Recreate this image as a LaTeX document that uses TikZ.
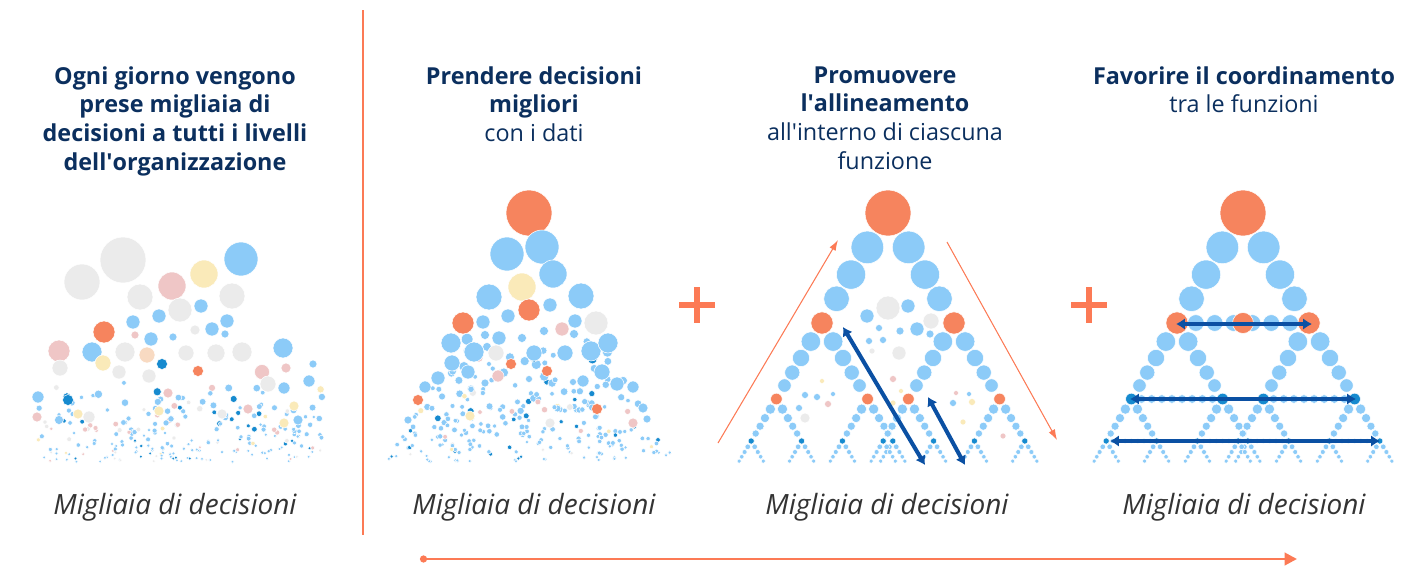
\documentclass[tikz,border=0pt]{standalone}
\usepackage{fontspec}
\setmainfont{Open Sans}
\usetikzlibrary{arrows.meta}

\definecolor{navy}{HTML}{0B2F5E}
\definecolor{capgray}{HTML}{333333}
\definecolor{bOrange}{HTML}{F6845E}
\definecolor{lineOrange}{HTML}{FC7A55}
\definecolor{bBlue}{HTML}{8CCBF8}
\definecolor{bDark}{HTML}{168ACF}
\definecolor{bGray}{HTML}{EBEBEB}
\definecolor{bPink}{HTML}{EFC6C6}
\definecolor{bYellow}{HTML}{FAEAB9}
\definecolor{bPeach}{HTML}{F8DAC2}
\definecolor{arrowBlue}{HTML}{0B50A3}

\newcommand\headfont{\fontsize{13.3}{16.4}\selectfont}
\newcommand\capfont{\fontsize{15.9}{18}\selectfont\itshape}
\newcommand\ap{\textquotesingle{}}

% bubble size falls off with depth below the apex
\def\apy{213}
\pgfmathdeclarefunction{bub}{1}{%
  \begingroup
  \pgfmathparse{(#1-\apy<1) ? 23 : 1.8+17.5*(max(0.02,(252-(#1-\apy))/252))^1.1}%
  \pgfmathsmuggle\pgfmathresult
  \endgroup}

\newif\ifrowline
\def\rowdy#1{\ifcase#1 110\or 186\or 228\or 252\fi}
\def\apexcol#1{\ifcase#1 bOrange\or bOrange\or bOrange\else bDark\fi}

% chain of bubbles from (#1,#2) to (#3,#4)
\newcommand\bubbleside[4]{%
  \begingroup
  \pgfmathsetmacro\bdx{#3-(#1)}%
  \pgfmathsetmacro\bdy{#4-(#2)}%
  \pgfmathsetmacro\blen{veclen(\bdx,\bdy)}%
  \pgfmathsetmacro\bux{\bdx/\blen}%
  \pgfmathsetmacro\buy{\bdy/\blen}%
  \def\bt{0}%
  \pgfmathsetmacro\bcur{bub(#2)}%
  \loop
    \pgfmathsetmacro\bnext{bub(#2+\buy*(\bt+2*\bcur))}%
    \pgfmathsetmacro\bt{\bt+\bcur+\bnext+0.8}%
    \pgfmathtruncatemacro\bgo{\bt+0.5*\bnext<\blen}%
  \ifnum\bgo=1
    \filldraw[bubble] ({#1+\bux*\bt},{#2+\buy*\bt}) circle (\bnext);
    \let\bcur\bnext
  \repeat
  \endgroup}

% row of even bubbles between x=#1 and x=#2 at height #3
\newcommand\bubblerow[3]{%
  \begingroup
  \pgfmathsetmacro\brr{0.75*bub(#3)}%
  \pgfmathtruncatemacro\bn{(#2-(#1))/(2*\brr+1)}%
  \pgfmathtruncatemacro\bm{\bn-1}%
  \ifnum\bm>0
    \foreach \j in {1,...,\bm}{
      \filldraw[bubble] ({#1+(#2-(#1))*\j/\bn},#3) circle (\brr);
    }
  \fi
  \endgroup}

% one triangle: apex x, apex y, level
\newcommand\tri[3]{%
  \pgfmathsetmacro\tx{#1}%
  \pgfmathsetmacro\ty{#2}%
  \pgfmathsetmacro\tyy{\apy+\rowdy{#3}}%
  \pgfmathsetmacro\thw{0.6*(\tyy-\ty)}%
  \pgfmathsetmacro\tlx{\tx-\thw}%
  \pgfmathsetmacro\trx{\tx+\thw}%
  \bubbleside{\tx}{\ty}{\tlx}{\tyy}%
  \bubbleside{\tx}{\ty}{\trx}{\tyy}%
  \ifnum#3<3 \ifrowline\bubblerow{\tlx}{\trx}{\tyy}\fi\fi
  \pgfmathsetmacro\tar{bub(\ty)}%
  \edef\tcol{\apexcol{#3}}%
  \filldraw[bubble, fill=\tcol] (\tx,\ty) circle (\tar);
}

% nested triangles under apex (#1,213)
\newcommand\nested[1]{%
  \tri{#1}{213}{0}
  \foreach \sa in {-1,1}{
    \tri{#1+\sa*66}{323}{1}
    \foreach \sb in {-1,1}{
      \tri{#1+\sa*66+\sb*45.6}{399}{2}
      \foreach \sc in {-1,1}{
        \tri{#1+\sa*66+\sb*45.6+\sc*25.2}{441}{3}
      }
    }
  }}

\tikzset{
  head/.style={anchor=north, align=center, inner sep=0pt, text=navy, font=\headfont},
  caption/.style={anchor=base, inner sep=0pt, text=capgray, font=\capfont},
  bubble/.style={draw=white, line width=0.3pt, fill=bBlue},
  bluearrow/.style={draw=arrowBlue, line width=2.3pt,
    {Latex[length=5pt,width=6.5pt]}-{Latex[length=5pt,width=6.5pt]}},
  thinarrow/.style={draw=lineOrange, line width=0.6pt, -{Latex[length=6pt,width=4pt]}},
  plussign/.style={draw=lineOrange, line width=3.2pt},
}

\begin{document}
\begin{tikzpicture}[x=0.02cm, y=-0.02cm]
  \useasboundingbox (0,0) rectangle (1417,565);

  % headings
  \node[head] (h1) at (175,66) {\textbf{Ogni giorno vengono}\\\textbf{prese migliaia di}\\
    \textbf{decisioni a tutti i livelli}\\\textbf{dell\ap organizzazione}};
  \node[head] (h2) at (534,66) {\textbf{Prendere decisioni}\\\textbf{migliori}\\con i dati};
  \node[head] (h3) at (885,66) {\textbf{Promuovere}\\\textbf{l\ap allineamento}\\
    all\ap interno di ciascuna\\funzione};
  \node[head] (h4) at (1244,66) {\textbf{Favorire il coordinamento}\\tra le funzioni};

  % captions
  \node[caption] (c1) at (175,514) {Migliaia di decisioni};
  \node[caption] (c2) at (534,514) {Migliaia di decisioni};
  \node[caption] (c3) at (887,514) {Migliaia di decisioni};
  \node[caption] (c4) at (1244,514) {Migliaia di decisioni};

  \coordinate (divtop) at (363,10);
  \coordinate (divbot) at (363,535);
  \draw[lineOrange, line width=0.8pt] (divtop) -- (divbot);

  % panel 1: scattered cloud
  \pgfmathsetseed{5}
  \foreach \i in {1,...,240}{
    \pgfmathsetmacro\qy{378+84*sqrt(rnd)}
    \pgfmathsetmacro\qx{34+288*rnd}
    \pgfmathsetmacro\qr{1.6+(462-\qy)/84*(0.6+2.6*rnd)}
    \pgfmathtruncatemacro\qc{22*rnd}
    \edef\qcol{\ifcase\qc bDark\or bDark\or bPink\or bPink\or bGray\or bGray\or bYellow\else bBlue\fi}
    \filldraw[bubble, fill=\qcol] (\qx,\qy) circle (\qr);
  }
  \foreach \px/\py/\pr/\pc in {82/282/18/bGray, 123/260/23/bGray, 241/259/17/bBlue,
      204/274/14/bYellow, 172/286/14/bPink, 140/297/13/bGray, 232/296/13/bGray,
      201/306/7/bBlue, 180/310/12/bGray, 159/316/7/bBlue, 133/322/7/bBlue,
      227/321/7/bBlue, 212/329/7/bBlue, 195/330/5/bGray, 104/332/11/bOrange,
      135/335/4/bPink, 225/334/4/bBlue, 151/339/7/bBlue, 173/337/4/bBlue,
      59/351/11/bPink, 92/352/10/bBlue, 125/352/10/bGray, 147/355/8/bPeach,
      186/353/8/bGray, 216/353/9/bGray, 242/352/10/bGray, 283/348/10/bBlue,
      103/363/8/bYellow, 60/368/8/bGray, 119/372/7/bGray, 162/364/5.5/bDark,
      149/376/7/bGray, 198/371/5.5/bOrange, 262/372/7.5/bPink, 286/368/5/bPink,
      313/364/4/bBlue, 309/381/6/bBlue, 268/384/8/bGray, 284/388/6/bBlue,
      38/397/6/bBlue, 68/400/5.5/bDark, 37/417/5/bPink, 294/406/5/bYellow,
      284/423/5/bYellow, 78/414/5/bYellow, 89/417/6/bGray, 59/420/4.5/bBlue,
      298/420/5/bBlue, 159/411/5/bYellow, 222/414/5/bGray, 248/409/5/bPink,
      168/393/5/bPink}
    \filldraw[bubble, fill=\pc] (\px,\py) circle (\pr);

  % panel 2: loose pyramid
  \pgfmathsetseed{11}
  \foreach \i in {1,...,260}{
    \pgfmathsetmacro\qy{338+124*sqrt(rnd)}
    \pgfmathsetmacro\qx{531+(2*rnd-1)*0.58*(\qy-213)}
    \pgfmathsetmacro\qr{1.8+(462-\qy)/124*(0.8+3.6*rnd)}
    \pgfmathtruncatemacro\qc{28*rnd}
    \edef\qcol{\ifcase\qc bDark\or bDark\or bPink\or bGray\or bYellow\else bBlue\fi}
    \filldraw[bubble, fill=\qcol] (\qx,\qy) circle (\qr);
  }
  \foreach \px/\py/\pr/\pc in {529/213/23/bOrange, 507/254/17/bBlue, 542/247/17/bBlue,
      553/274/14/bBlue, 522/287/14/bYellow, 489/297/13/bBlue, 581/296/13/bBlue,
      529/310/11/bOrange, 550/305/7/bBlue, 508/316/7/bBlue, 463/323/11/bOrange,
      483/322/7/bBlue, 562/329/7/bPink, 575/321/7/bBlue, 596/323/12/bGray,
      451/343/10/bBlue, 474/352/10/bBlue, 499/338/7/bBlue, 485/335/4.5/bBlue,
      522/338/4.5/bBlue, 544/331/4.5/bBlue, 574/334/4.5/bBlue, 534/353/8/bBlue,
      565/353/8/bBlue, 591/351/10/bBlue, 608/343/10/bBlue, 496/353/8/bGray,
      452/363/8/bBlue, 468/372/7/bBlue, 511/364/5.5/bOrange, 547/371/5.5/bOrange,
      498/376/6/bPink, 602/372/8/bBlue, 438/378/7/bBlue, 425/387/6/bBlue,
      485/383/4/bBlue, 529/379/3.5/bBlue, 573/382/3.5/bBlue, 583/381/6/bBlue,
      617/384/7/bBlue, 633/387/6/bBlue, 418/400/5.5/bOrange, 597/409/5.5/bOrange,
      470/416/5/bYellow, 550/423/5/bGray, 633/423/5/bPink, 408/420/4/bBlue,
      647/419/4/bBlue, 643/408/5/bBlue}
    \filldraw[bubble, fill=\pc] (\px,\py) circle (\pr);

  \draw[plussign] (679,305) -- (715,305) (697,287) -- (697,323);

  % panel 3: nested triangles
  \foreach \px/\py/\pr/\pc in {888/308/12/bGray, 908/306/7/bBlue, 867/316/7/bBlue,
      931/321/8/bGray, 917/329/7/bBlue, 879/328/3.5/bBlue, 900/331/4/bBlue,
      930/334/4/bBlue, 869/341/3.5/bBlue, 883/340/3.5/bBlue, 899/353/7/bGray,
      872/351/3/bGray, 893/379/3.5/bPink, 822/381/2.5/bYellow, 901/391/2.5/bYellow,
      956/393/2.5/bPink, 969/394/2.5/bBlue, 805/395/3.5/bBlue, 817/397/3.5/bBlue,
      833/394/2.5/bBlue, 828/404/3.5/bPink, 972/402/3.5/bYellow, 953/403/3.5/bBlue,
      799/408/3.5/bBlue, 805/418/5/bGray, 963/422/3/bYellow, 1003/436/3/bPink,
      893/403/3/bYellow}
    \filldraw[bubble, fill=\pc] (\px,\py) circle (\pr);
  \rowlinefalse
  \nested{888}

  \coordinate (up1) at (718,443);
  \coordinate (up2) at (838,240);
  \coordinate (dn1) at (947,242);
  \coordinate (dn2) at (1057,440);
  \draw[thinarrow] (up1) -- (up2);
  \draw[thinarrow] (dn1) -- (dn2);

  \coordinate (ba1) at (843,327);
  \coordinate (ba2) at (925,465);
  \coordinate (bb1) at (928,397);
  \coordinate (bb2) at (965,465);
  \draw[bluearrow] (ba1) -- (ba2);
  \draw[bluearrow] (bb1) -- (bb2);

  \draw[plussign] (1071,305) -- (1107,305) (1089,287) -- (1089,323);

  % panel 4: nested triangles with rows
  \def\apexcol#1{\ifcase#1 bOrange\or bOrange\else bDark\fi}
  \rowlinetrue
  \nested{1243}
  \filldraw[bubble, fill=bOrange] (1243,323) circle (10.5);

  \coordinate (r1a) at (1176,324);
  \coordinate (r1b) at (1312,324);
  \coordinate (r2a) at (1130,399);
  \coordinate (r2b) at (1356,399);
  \coordinate (r3a) at (1110,441);
  \coordinate (r3b) at (1380,441);
  \draw[bluearrow] (r1a) -- (r1b);
  \draw[bluearrow] (r2a) -- (r2b);
  \draw[bluearrow] (r3a) -- (r3b);

  % time line
  \coordinate (tl1) at (420,559);
  \coordinate (tl2) at (1297,559);
  \draw[lineOrange, line width=1.6pt, {Circle[length=4pt]}-{Triangle[length=7pt,width=7pt]}] (tl1) -- (tl2);
\end{tikzpicture}
\end{document}
